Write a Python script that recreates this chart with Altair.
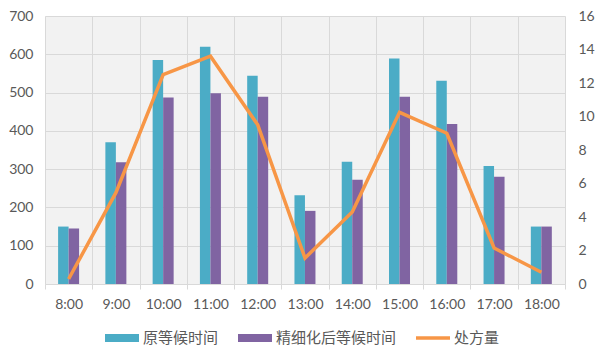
import altair as alt
import pandas as pd

times = ["8:00", "9:00", "10:00", "11:00", "12:00", "13:00", "14:00", "15:00", "16:00", "17:00", "18:00"]
original_wait = [150, 370, 585, 620, 544, 232, 319, 589, 531, 308, 150]
refined_wait = [145, 318, 487, 498, 489, 191, 272, 489, 418, 280, 150]
prescriptions = [0.3, 5.45, 12.5, 13.6, 9.5, 1.55, 4.3, 10.25, 9.0, 2.15, 0.7]

S1, S2, S3 = "原等候时间", "精细化后等候时间", "处方量"
TEAL, PURPLE, ORANGE = "#4BACC6", "#8064A2", "#F79646"
TXT = "#595959"

bars = pd.DataFrame(
    [{"time": t, "series": S1, "value": v} for t, v in zip(times, original_wait)]
    + [{"time": t, "series": S2, "value": v} for t, v in zip(times, refined_wait)]
)
line = pd.DataFrame({"time": times, "series": S3, "count": prescriptions})

xenc = alt.X(
    "time:N",
    sort=times,
    scale=alt.Scale(paddingInner=0, paddingOuter=0),
    axis=alt.Axis(
        title=None,
        labelAngle=0,
        tickBand="extent",
        grid=True,
        gridColor="#d9d9d9",
        domainColor="#d9d9d9",
        tickColor="#d9d9d9",
        tickSize=5,
        labelPadding=8,
        labelFont="Lato",
        labelFontSize=14,
        labelColor=TXT,
    ),
)

bar_layer = alt.Chart(bars).mark_bar().encode(
    x=xenc,
    xOffset=alt.XOffset(
        "series:N",
        sort=[S1, S2],
        scale=alt.Scale(paddingInner=0, paddingOuter=0, range=[13.1, 34.1]),
    ),
    y=alt.Y(
        "value:Q",
        scale=alt.Scale(domain=[0, 700]),
        axis=alt.Axis(
            title=None,
            values=list(range(0, 701, 100)),
            grid=True,
            gridColor="#d9d9d9",
            domain=False,
            ticks=False,
            labelPadding=12,
            labelFont="Lato",
            labelFontSize=14,
            labelColor=TXT,
        ),
    ),
    color=alt.Color(
        "series:N",
        scale=alt.Scale(domain=[S1, S2, S3], range=[TEAL, PURPLE, ORANGE]),
        legend=alt.Legend(
            title=None,
            orient="none",
            direction="horizontal",
            legendX=60,
            legendY=305,
            symbolType={"expr": "datum.label == '处方量' ? 'M-1,-0.11H1V0.11H-1Z' : 'M-1,-0.24H1V0.24H-1Z'"},
            symbolSize=1156,
            symbolStrokeWidth=0,
            labelFont="Noto Sans CJK SC",
            labelFontSize=15,
            labelColor=TXT,
            labelOffset=4,
            columnPadding=19,
        ),
    ),
)

line_layer = alt.Chart(line).mark_line(strokeWidth=3.5, color=ORANGE).encode(
    x=alt.X("time:N", sort=times),
    y=alt.Y(
        "count:Q",
        scale=alt.Scale(domain=[0, 16]),
        axis=alt.Axis(
            title=None,
            orient="right",
            values=list(range(0, 17, 2)),
            grid=False,
            domain=False,
            ticks=False,
            labelPadding=13,
            labelFont="Lato",
            labelFontSize=14,
            labelColor=TXT,
        ),
    ),
)

chart = (
    alt.layer(bar_layer, line_layer)
    .resolve_scale(y="independent")
    .properties(
        width=520,
        height=268,
        autosize=alt.AutoSizeParams(type="none"),
        padding={"left": 45, "top": 16, "right": 38, "bottom": 70},
        background="white",
    )
    .configure_view(fill="#f2f2f2", stroke=None)
)

chart.save("out.html", embed_options={"renderer": "svg", "actions": False})
